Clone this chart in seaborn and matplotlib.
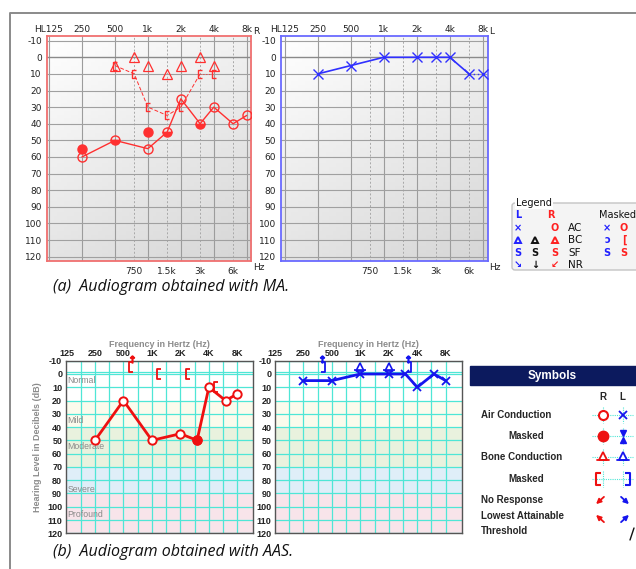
import numpy as np
import pandas as pd
import seaborn as sns
import matplotlib.pyplot as plt
from matplotlib.colors import LinearSegmentedColormap
from matplotlib.patches import Rectangle, FancyBboxPatch
from matplotlib.path import Path

sns.set_theme(style="white")
plt.rcParams['font.family'] = ['DejaVu Sans']
plt.rcParams['axes.unicode_minus'] = False

# ---- (a) audiogram obtained with MA ----
ma_r_ac_f = [250, 500, 1000, 1500, 2000, 3000, 4000, 6000, 8000]
ma_r_ac_db = [60, 50, 55, 45, 25, 40, 30, 40, 35]
ma_r_acm_f = [250, 500, 1000, 1500, 3000]
ma_r_acm_db = [55, 50, 45, 45, 40]
ma_r_bc_f = [500, 750, 1000, 1500, 2000, 3000, 4000]
ma_r_bc_db = [5, 0, 5, 10, 5, 0, 5]
ma_r_bcm_f = [500, 750, 1000, 1500, 2000, 3000, 4000]
ma_r_bcm_db = [5, 10, 30, 35, 30, 10, 10]
ma_l_ac_f = [250, 500, 1000, 2000, 3000, 4000, 6000, 8000]
ma_l_ac_db = [10, 5, 0, 0, 0, 0, 10, 10]

ma_top_f = [125, 250, 500, 1000, 2000, 4000, 8000]
ma_top_lab = ['HL125', '250', '500', '1k', '2k', '4k', '8k']
ma_mid_f = [750, 1500, 3000, 6000]
ma_mid_lab = ['750', '1.5k', '3k', '6k']

# ---- (b) audiogram obtained with AAS ----
aas_r_ac_f = [250, 500, 1000, 2000, 3000, 4000, 6000, 8000]
aas_r_ac_db = [50, 20, 50, 45, 50, 10, 20, 15]
aas_r_acm_f = [3000]
aas_r_acm_db = [50]
aas_r_bcm_f = [500, 1000, 2000, 4000]
aas_r_bcm_db = [-5, 0, 0, 10]
aas_l_ac_f = [250, 500, 1000, 2000, 3000, 4000, 6000, 8000]
aas_l_ac_db = [5, 5, 0, 0, 0, 10, 0, 5]
aas_l_bc_f = [1000, 2000]
aas_l_bc_db = [-5, -5]
aas_l_bcm_f = [500, 4000]
aas_l_bcm_db = [-5, -5]

aas_top_f = [125, 250, 500, 1000, 2000, 4000, 8000]
aas_top_lab = ['125', '250', '500', '1K', '2K', '4K', '8K']
bands = [(-10, 20, '#ffffff', 'Normal', 5), (20, 40, '#fbfbec', 'Mild', 35),
         (40, 70, '#e9f2de', 'Moderate', 55), (70, 90, '#dfeef8', 'Severe', 87),
         (90, 120, '#f8e4ea', 'Profound', 106)]

W, H = 636, 569
fig = plt.figure(figsize=(6.36, 5.69), dpi=100)

# bracket markers for masked bone conduction
LBR = Path([(0.45, 1), (-0.45, 1), (-0.45, -1), (0.45, -1)],
           [Path.MOVETO, Path.LINETO, Path.LINETO, Path.LINETO])
RBR = Path([(-0.45, 1), (0.45, 1), (0.45, -1), (-0.45, -1)],
           [Path.MOVETO, Path.LINETO, Path.LINETO, Path.LINETO])


def rect(l, t, r, b):
    return [l / W, 1 - b / H, (r - l) / W, (b - t) / H]


RED_A, BLUE_A = '#ff3030', '#3030ff'
grad_cm = LinearSegmentedColormap.from_list('g', ['#ffffff', '#d6d6d6'])


def ma_panel(box, xlim, edge):
    bg = fig.add_axes(rect(*box), zorder=0)
    gx, gy = np.meshgrid(np.linspace(0, 1, 60), np.linspace(0, 1, 60))
    bg.imshow(0.35 * gx + 0.65 * gy, cmap=grad_cm, aspect='auto', vmin=0, vmax=1)
    bg.axis('off')
    ax = fig.add_axes(rect(*box), zorder=1)
    ax.patch.set_alpha(0)
    ax.set_xscale('log')
    ax.set_xlim(*xlim)
    ax.set_ylim(122.6, -12.8)
    for f in ma_top_f:
        ax.axvline(f, color='#9c9c9c', lw=0.8, zorder=1)
    for f in ma_mid_f:
        ax.axvline(f, color='#a8a8a8', lw=0.7, ls=(0, (2, 2)), zorder=1)
    for d in range(-10, 121, 10):
        ax.axhline(d, color='#8a8a8a' if d == 0 else '#a0a0a0', lw=1.0 if d == 0 else 0.8, zorder=1)
    ax.minorticks_off()
    ax.set_xticks(ma_top_f)
    ax.set_xticklabels(ma_top_lab)
    ax.xaxis.tick_top()
    ax.set_yticks(range(-10, 121, 10))
    ax.tick_params(length=0, labelsize=6.5, pad=1.5, colors='#222222')
    ax.tick_params(axis='y', pad=3.5)
    for f, lab in zip(ma_mid_f, ma_mid_lab):
        ax.text(f, -0.025, lab, transform=ax.get_xaxis_transform(), ha='center', va='top',
                fontsize=6.5, color='#222222')
    for s in ax.spines.values():
        s.set_color(edge)
        s.set_linewidth(1.3)
    ax.set_xlabel('')
    ax.set_ylabel('')
    return ax


# right ear (a)
axa = ma_panel((46.7, 36, 251, 261), (119.1, 8750), '#f07070')
sns.lineplot(x=ma_r_ac_f, y=ma_r_ac_db, ax=axa, color=RED_A, lw=1.0, sort=False, estimator=None, zorder=3)
sns.lineplot(x=ma_r_bcm_f[:-1], y=ma_r_bcm_db[:-1], ax=axa, color=RED_A, lw=0.7, ls=(0, (4, 2)),
             sort=False, estimator=None, zorder=3)
sns.lineplot(x=ma_r_bcm_f[-2:], y=ma_r_bcm_db[-2:], ax=axa, color=RED_A, lw=0.7, ls=(0, (1, 2)),
             sort=False, estimator=None, zorder=3)
both = set(zip(ma_r_ac_f, ma_r_ac_db)) & set(zip(ma_r_acm_f, ma_r_acm_db))
for f, d in zip(ma_r_ac_f, ma_r_ac_db):
    if (f, d) not in both:
        axa.plot(f, d, 'o', ms=6.5, mfc='none', mec=RED_A, mew=1.0, zorder=4)
for f, d in zip(ma_r_acm_f, ma_r_acm_db):
    if (f, d) in both:
        axa.plot(f, d, 'o', ms=6.5, mfc=RED_A, mec=RED_A, mew=1.0, fillstyle='bottom',
                 markerfacecoloralt='none', zorder=4)
    else:
        axa.plot(f, d, 'o', ms=6.5, mfc=RED_A, mec=RED_A, mew=1.0, zorder=4)
axa.plot(ma_r_bc_f, ma_r_bc_db, '^', ls='none', ms=7, mfc='none', mec=RED_A, mew=0.9, zorder=4)
axa.plot(ma_r_bcm_f, ma_r_bcm_db, ls='none', marker=LBR, ms=6, mfc='none', mew=1.0, mec=RED_A, zorder=4)

# left ear (a)
axb = ma_panel((281, 36, 487.7, 261), (115.6, 8876), '#6a6aff')
sns.lineplot(x=ma_l_ac_f[:-1], y=ma_l_ac_db[:-1], ax=axb, color=BLUE_A, lw=1.2, sort=False,
             estimator=None, zorder=3)
sns.lineplot(x=ma_l_ac_f[-2:], y=ma_l_ac_db[-2:], ax=axb, color=BLUE_A, lw=1.0, ls=(0, (1, 2)),
             sort=False, estimator=None, zorder=3)
axb.plot(ma_l_ac_f, ma_l_ac_db, 'x', ls='none', ms=7, mec=BLUE_A, mew=1.0, zorder=4)

# ---- (b) panels ----
RED_B, BLUE_B, CYAN = '#ee1010', '#1515ee', '#4fe6d6'


def aas_panel(box, xlim, band_labels):
    ax = fig.add_axes(rect(*box), zorder=1)
    ax.set_xscale('log')
    ax.set_xlim(*xlim)
    ax.set_ylim(120, -10)
    for lo, hi, c, name, yl in bands:
        ax.axhspan(lo, hi, color=c, lw=0, zorder=0)
        if band_labels:
            ax.text(128, yl, name, fontsize=6.3, color='#8a8a8a', va='center', ha='left', zorder=2,
                    family=['Liberation Sans', 'DejaVu Sans'])
    for k in range(1, 13):
        ax.axvline(125 * 2 ** (k / 2), color=CYAN, lw=0.9, zorder=1)
    for d in range(-10, 121, 10):
        ax.axhline(d, color=CYAN, lw=0.9, zorder=1)
    ax.axhline(-1.5, color=CYAN, lw=0.9, zorder=1)
    ax.minorticks_off()
    ax.set_xticks(aas_top_f)
    ax.set_xticklabels(aas_top_lab)
    ax.xaxis.tick_top()
    ax.set_yticks(range(-10, 121, 10))
    ax.tick_params(length=0, labelsize=6.5, pad=2, colors='#222222')
    ax.tick_params(axis='y', pad=2.5)
    for lab in ax.get_xticklabels() + ax.get_yticklabels():
        lab.set_fontweight('bold')
        lab.set_family(['Liberation Sans', 'DejaVu Sans'])
    for s in ax.spines.values():
        s.set_color('#555555')
        s.set_linewidth(1.0)
    ax.set_title('Frequency in Hertz (Hz)', fontsize=6.5, color='#8c8c8c', fontweight='bold',
                 pad=10, family=['Liberation Sans', 'DejaVu Sans'])
    return ax


axc = aas_panel((65.7, 360.7, 253.3, 533.3), (122.6, 11790), True)
sns.lineplot(x=aas_r_ac_f, y=aas_r_ac_db, ax=axc, color=RED_B, lw=2.0, sort=False, estimator=None, zorder=3)
axc.plot(aas_r_ac_f, aas_r_ac_db, 'o', ls='none', ms=6, mfc='white', mec=RED_B, mew=1.4, zorder=4)
axc.plot(aas_r_acm_f, aas_r_acm_db, 'o', ls='none', ms=6, mfc=RED_B, mec=RED_B, mew=1.4, zorder=5)
axc.plot(np.array(aas_r_bcm_f) * 1.2, aas_r_bcm_db, ls='none', marker=LBR, ms=6.5, mfc='none', mew=1.3,
         mec=RED_B, zorder=4, clip_on=False)
axc.plot([aas_r_bcm_f[0] * 1.23], [-11], ls='none', marker=r'$\uparrow$', ms=5, color=RED_B,
         zorder=4, clip_on=False)
axc.set_ylabel('Hearing Level in Decibels (dB)', fontsize=6.5, color='#8c8c8c', fontweight='bold',
               labelpad=4, family=['Liberation Sans', 'DejaVu Sans'])

axd = aas_panel((275, 360.7, 462.3, 533.3), (125.6, 11980), False)
sns.lineplot(x=aas_l_ac_f, y=aas_l_ac_db, ax=axd, color=BLUE_B, lw=2.0, sort=False, estimator=None, zorder=3)
axd.plot(aas_l_ac_f, aas_l_ac_db, 'x', ls='none', ms=6, mec=BLUE_B, mew=1.3, zorder=4)
axd.plot(aas_l_bc_f, aas_l_bc_db, '^', ls='none', ms=6, mfc='white', mec=BLUE_B, mew=1.2, zorder=4,
         clip_on=False)
axd.plot(aas_l_bc_f, [d + 1.8 for d in aas_l_bc_db], '_', ls='none', ms=8, mec=BLUE_B, mew=1.2, zorder=4)
axd.plot(np.array(aas_l_bcm_f) * 0.81, aas_l_bcm_db, ls='none', marker=RBR, ms=6.5, mfc='none', mew=1.3,
         mec=BLUE_B, zorder=4, clip_on=False)
axd.plot(np.array(aas_l_bcm_f) * 0.79, [-11, -11], ls='none', marker=r'$\uparrow$', ms=5, color=BLUE_B,
         zorder=4, clip_on=False)

# ---- overlay: labels, legend boxes, captions ----
ov = fig.add_axes([0, 0, 1, 1], zorder=10)
ov.set_xlim(0, W)
ov.set_ylim(H, 0)
ov.axis('off')

ov.plot([9.5, 9.5, W], [H, 13.3, 13.3], color='#8a8a8a', lw=1.4)
ov.text(256, 31.5, 'R', fontsize=6.5, ha='center', va='center', color='#222222')
ov.text(492, 31.5, 'L', fontsize=6.5, ha='center', va='center', color='#222222')
ov.text(259, 267.5, 'Hz', fontsize=6.5, ha='center', va='center', color='#222222')
ov.text(495, 267.5, 'Hz', fontsize=6.5, ha='center', va='center', color='#222222')

# legend (a)
ov.add_patch(FancyBboxPatch((512, 203), 140, 67, boxstyle='round,pad=0,rounding_size=3',
                            ec='#c4c4c4', fc='#f4f4f4', lw=1))
ov.text(516, 203, 'Legend', fontsize=7, va='center', ha='left', color='#111111',
        bbox=dict(fc='white', ec='none', pad=0.5))
lg = dict(fontsize=7, va='center', ha='center', fontweight='bold')
ov.text(518, 215, 'L', color='#2020ff', **lg)
ov.text(551, 215, 'R', color='#ff2020', **lg)
ov.text(618, 215, 'Masked', fontsize=7, va='center', ha='center', color='#111111')
ov.text(518, 228, '×', color='#2020ff', **lg)
ov.text(555, 228, 'O', color='#ff2020', **lg)
ov.text(607, 228, '×', color='#2020ff', **lg)
ov.text(624, 228, 'O', color='#ff2020', **lg)
for xx, cc in zip([518, 535, 555], ['#2020ff', '#111111', '#ff2020']):
    ov.plot(xx, 240, '^', ms=4.5, mfc='none', mec=cc, mew=1.4)
ov.text(607, 240, 'ɔ', color='#2020ff', **lg)
ov.text(624, 240, '[', color='#ff2020', **lg)
for xx, cc in zip([518, 535, 555, 607, 624], ['#2020ff', '#111111', '#ff2020', '#2020ff', '#ff2020']):
    ov.text(xx, 253, 'S', color=cc, **lg)
ov.text(518, 265, '↘', color='#2020ff', **lg)
ov.text(535, 265, '↓', color='#111111', **lg)
ov.text(555, 265, '↙', color='#ff2020', **lg)
for yy, lab in zip([228, 240, 253, 265], ['AC', 'BC', 'SF', 'NR']):
    ov.text(568, yy, lab, fontsize=7.5, va='center', ha='left', color='#111111')

# symbols (b)
sf = ['Liberation Sans', 'DejaVu Sans']
ov.add_patch(Rectangle((469.5, 366), 170, 19, fc='#0c1a5e', ec='#0c1a5e'))
ov.text(552, 375.5, 'Symbols', color='white', fontsize=8.5, fontweight='bold', ha='center',
        va='center', family=sf)
ov.text(602.7, 397, 'R', fontsize=7, fontweight='bold', ha='center', va='center', family=sf)
ov.text(622.7, 397, 'L', fontsize=7, fontweight='bold', ha='center', va='center', family=sf)
rows = [(481, 415, 'Air Conduction'), (508, 436, 'Masked'), (481, 457, 'Bone Conduction'),
        (508, 479, 'Masked'), (481, 499.5, 'No Response'), (481, 516, 'Lowest Attainable'),
        (481, 531, 'Threshold')]
for xx, yy, lab in rows:
    ov.text(xx, yy, lab, fontsize=7, fontweight='bold', ha='left', va='center', family=sf)
for yy in [415, 436, 457, 479]:
    ov.plot([592, 633], [yy, yy], color=CYAN, lw=0.8, ls=(0, (1, 1)))
    for xx in [602.7, 622.7]:
        ov.plot([xx, xx], [yy - 8, yy + 8], color=CYAN, lw=0.8, ls=(0, (1, 1)))
ov.plot(602.7, 415, 'o', ms=6.5, mfc='white', mec=RED_B, mew=1.5)
ov.plot(622.7, 415, 'x', ms=6, mec=BLUE_B, mew=1.3)
ov.plot(602.7, 436, 'o', ms=7.5, mfc=RED_B, mec=RED_B)
ov.plot(622.7, 432.5, 'v', ms=5, mfc=BLUE_B, mec=BLUE_B)
ov.plot(622.7, 439.5, '^', ms=5, mfc=BLUE_B, mec=BLUE_B)
ov.plot(602.7, 455.5, '^', ms=6, mfc='white', mec=RED_B, mew=1.3)
ov.plot(622.7, 455.5, '^', ms=6, mfc='white', mec=BLUE_B, mew=1.3)
ov.plot([597, 608.5], [460, 460], color=RED_B, lw=1.3)
ov.plot([617, 628.5], [460, 460], color=BLUE_B, lw=1.3)
ov.plot(598, 479, marker=LBR, ms=8, mfc='none', mec=RED_B, mew=1.5)
ov.plot(627, 479, marker=RBR, ms=8, mfc='none', mec=BLUE_B, mew=1.5)
arr = dict(arrowstyle='-|>', lw=1.3, mutation_scale=7)
ov.annotate('', xy=(594, 506), xytext=(606, 495), arrowprops=dict(color=RED_B, **arr))
ov.annotate('', xy=(631, 506), xytext=(619, 495), arrowprops=dict(color=BLUE_B, **arr))
ov.annotate('', xy=(594, 513), xytext=(606, 524), arrowprops=dict(color=RED_B, **arr))
ov.annotate('', xy=(631, 513), xytext=(619, 524), arrowprops=dict(color=BLUE_B, **arr))
ov.plot([630, 634], [540, 528], color='#111111', lw=1.0)

cap = dict(fontsize=11.5, style='italic', ha='left', va='center', color='#111111',
           family=['Open Sans', 'DejaVu Sans'])
ov.text(53, 286.5, '(a)  Audiogram obtained with MA.', **cap)
ov.text(53, 551.5, '(b)  Audiogram obtained with AAS.', **cap)

fig.savefig('out.png', dpi=100)
